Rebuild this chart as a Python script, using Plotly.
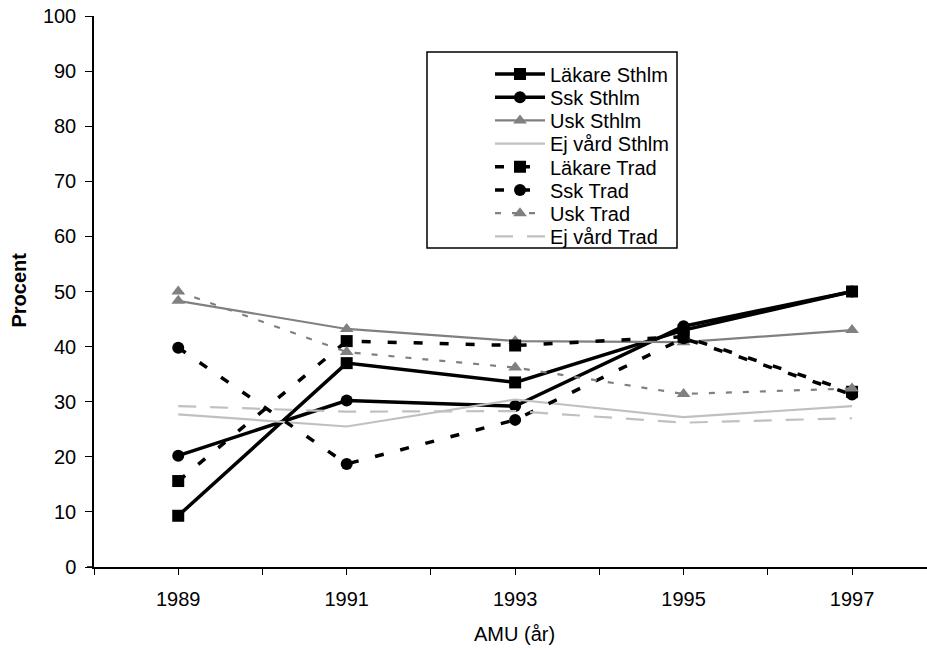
import plotly.graph_objects as go

# Survey years (AMU) and share of respondents, per occupational group and region
years = [1989, 1991, 1993, 1995, 1997]

lakare_sthlm = [9.3, 37.0, 33.5, 43.0, 50.0]
ssk_sthlm = [20.2, 30.2, 29.2, 43.7, 50.0]
usk_sthlm = [48.3, 43.2, 41.0, 40.8, 43.0]
ejvard_sthlm = [27.7, 25.5, 30.4, 27.2, 29.2]
lakare_trad = [15.6, 41.0, 40.2, 41.8, 31.8]
ssk_trad = [39.8, 18.7, 26.7, 41.5, 31.3]
usk_trad = [50.0, 39.0, 36.2, 31.4, 32.4]
ejvard_trad = [29.2, 28.2, 28.3, 26.2, 27.0]

series = [
    ("Läkare Sthlm", lakare_sthlm, "black", 3.5, "solid", "square"),
    ("Ssk Sthlm", ssk_sthlm, "black", 3.5, "solid", "circle"),
    ("Usk Sthlm", usk_sthlm, "#808080", 2.2, "solid", "triangle-up"),
    ("Ej vård Sthlm", ejvard_sthlm, "#c0c0c0", 2.2, "solid", None),
    ("Läkare Trad", lakare_trad, "black", 3.5, "9px,17px", "square"),
    ("Ssk Trad", ssk_trad, "black", 3.5, "9px,17px", "circle"),
    ("Usk Trad", usk_trad, "#808080", 2.2, "6px,11px", "triangle-up"),
    ("Ej vård Trad", ejvard_trad, "#c0c0c0", 2.2, "18px,14px", None),
]

FONT = "Liberation Sans, Arial, sans-serif"
FS = 20
PLOT_L, PLOT_R, PLOT_T, PLOT_B = 94, 927, 16, 567


def px_to_paper_x(px):
    return (px - PLOT_L) / (PLOT_R - PLOT_L)


def px_to_paper_y(py):
    return (PLOT_B - py) / (PLOT_B - PLOT_T)


fig = go.Figure()
legend_layouts = {}
for i, (name, vals, color, width, dash, symbol) in enumerate(series):
    legend_id = "legend" if i == 0 else f"legend{i + 1}"
    kw = dict(mode="lines")
    if symbol:
        kw = dict(mode="lines+markers",
                  marker=dict(symbol=symbol, size=12, color=color, line=dict(width=0)))
    fig.add_trace(go.Scatter(
        x=years, y=vals, name=name, legend=legend_id,
        line=dict(color=color, width=width, dash=dash), **kw))
    # one legend box per entry so the rows can sit closer together
    legend_layouts[legend_id] = dict(
        x=px_to_paper_x(490), y=px_to_paper_y(74 + 23.2 * i),
        xanchor="left", yanchor="middle",
        bgcolor="rgba(0,0,0,0)", borderwidth=0,
        font=dict(family=FONT, size=FS, color="black"),
        itemwidth=50,
    )

# Year ticks every year, labels on odd years only
tick_years = list(range(1988, 1999))
tick_text = [str(y) if y % 2 == 1 else "" for y in tick_years]

fig.update_layout(
    width=927, height=650,
    margin=dict(l=PLOT_L, r=927 - PLOT_R, t=PLOT_T, b=650 - PLOT_B),
    paper_bgcolor="white", plot_bgcolor="white",
    font=dict(family=FONT, size=FS, color="black"),
    showlegend=True,
    xaxis=dict(
        range=[1988, 1997.89], tickmode="array",
        tickvals=tick_years, ticktext=tick_text,
        ticks="outside", ticklen=6, tickwidth=1, tickcolor="black",
        showline=True, linecolor="black", linewidth=1.5,
        showgrid=False, zeroline=False, ticklabelstandoff=7,
        tickfont=dict(family=FONT, size=FS, color="black"),
    ),
    yaxis=dict(
        range=[0, 100], tickmode="linear", tick0=0, dtick=10,
        ticks="outside", ticklen=7, tickwidth=1, tickcolor="black",
        showline=True, linecolor="black", linewidth=1.5,
        showgrid=False, zeroline=False, ticklabelstandoff=5,
        tickfont=dict(family=FONT, size=FS, color="black"),
    ),
    shapes=[
        # Legend frame
        dict(type="rect", xref="paper", yref="paper",
             x0=px_to_paper_x(427), x1=px_to_paper_x(677),
             y0=px_to_paper_y(248), y1=px_to_paper_y(52),
             line=dict(color="black", width=1.5), fillcolor="white", layer="below"),
        # Short extension of the x-axis line to the left of the y-axis
        dict(type="line", xref="paper", yref="paper",
             x0=px_to_paper_x(87), x1=0, y0=0, y1=0,
             line=dict(color="black", width=1.5)),
    ],
    annotations=[
        dict(text="<b>Procent</b>", xref="paper", yref="paper",
             x=px_to_paper_x(18.5), y=px_to_paper_y(290), textangle=-90, showarrow=False,
             xanchor="center", yanchor="middle",
             font=dict(family=FONT, size=FS, color="black")),
        dict(text="AMU (år)", xref="paper", yref="paper",
             x=px_to_paper_x(514), y=px_to_paper_y(634), showarrow=False,
             xanchor="center", yanchor="middle",
             font=dict(family=FONT, size=FS, color="black")),
    ],
    **legend_layouts,
)

fig.write_html("out.html")
